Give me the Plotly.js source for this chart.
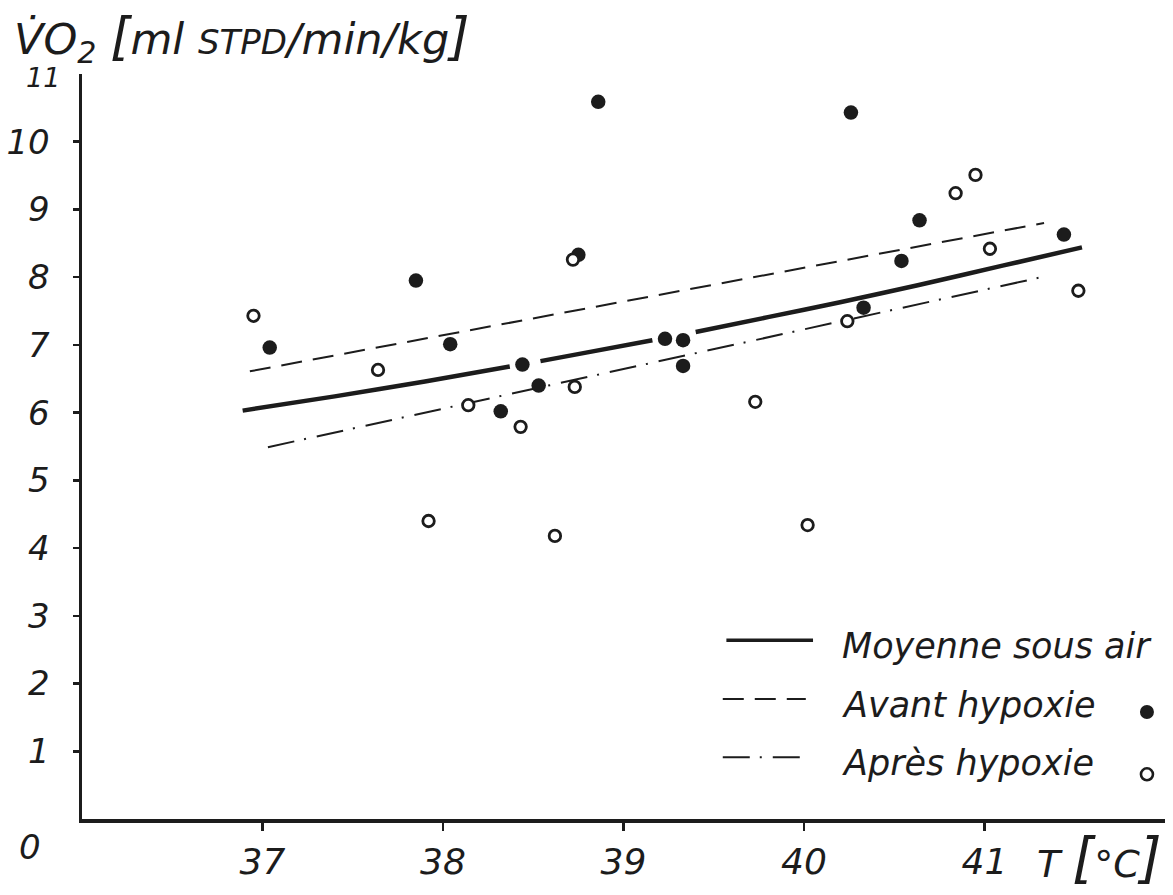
<!DOCTYPE html>
<html>
<head>
<meta charset="utf-8">
<script src="https://cdn.plot.ly/plotly-3.0.1.min.js"></script>
<style>html,body{margin:0;padding:0;background:#fff;}#chart{width:1173px;height:895px;}</style>
</head>
<body>
<div id="chart"></div>
<script>
// ---- Data ----
// Avant hypoxie (filled circles): temperature (°C), VO2 (ml STPD/min/kg)
const avantT   = [37.04, 37.85, 38.04, 38.32, 38.44, 38.53, 38.75, 38.86, 39.23, 39.33, 39.33, 40.26, 40.33, 40.54, 40.64, 41.44];
const avantVO2 = [6.96, 7.95, 7.01, 6.02, 6.71, 6.40, 8.33, 10.59, 7.09, 7.07, 6.69, 10.43, 7.55, 8.24, 8.84, 8.63];
// Après hypoxie (open circles)
const apresT   = [36.95, 37.64, 37.92, 38.14, 38.43, 38.62, 38.72, 38.73, 39.73, 40.02, 40.24, 40.84, 40.95, 41.03, 41.52];
const apresVO2 = [7.43, 6.63, 4.40, 6.11, 5.79, 4.18, 8.26, 6.38, 6.16, 4.34, 7.35, 9.24, 9.51, 8.42, 7.80];
// Moyenne sous air (solid curve, interrupted where it passes under points)
const moyT   = [36.89, 37.4, 37.9, 38.37, null, 38.54, 38.8, 39.16, null, 39.40, 39.8, 40.2, 40.63, 41.1, 41.54];
const moyVO2 = [6.03, 6.24, 6.46, 6.68, null, 6.76, 6.89, 7.07, null, 7.19, 7.41, 7.63, 7.88, 8.17, 8.44];
// Regression lines
const avantLineT   = [36.93, 41.33];
const avantLineVO2 = [6.61, 8.80];
const apresLineT   = [37.03, 41.35];
const apresLineVO2 = [5.49, 8.02];
// Axis ticks
const xTicks = [37, 38, 39, 40, 41];
const yTicks = [1, 2, 3, 4, 5, 6, 7, 8, 9, 10];
const legendNames = ['Moyenne sous air', 'Avant hypoxie', 'Après hypoxie'];

const INK = '#1c1c1c';
const FONT = 'DejaVu Sans';

const traces = [
  {x: moyT, y: moyVO2, mode: 'lines', line: {color: INK, width: 4.5, shape: 'spline', smoothing: 0.6}, connectgaps: false, name: legendNames[0], showlegend: false, hoverinfo: 'skip'},
  {x: avantLineT, y: avantLineVO2, mode: 'lines', line: {color: INK, width: 2, dash: '21px,11px'}, name: legendNames[1] + ' (droite)', showlegend: false},
  {x: apresLineT, y: apresLineVO2, mode: 'lines', line: {color: INK, width: 2, dash: '27px,10px,2px,11px'}, name: legendNames[2] + ' (droite)', showlegend: false},
  {x: avantT, y: avantVO2, mode: 'markers', marker: {color: INK, size: 14.5, line: {width: 0}}, name: legendNames[1], showlegend: false, cliponaxis: false},
  {x: apresT, y: apresVO2, mode: 'markers', marker: {color: '#ffffff', size: 11.5, line: {color: INK, width: 2.8}}, name: legendNames[2], showlegend: false, cliponaxis: false}
];

const layout = {
  width: 1173, height: 895,
  margin: {l: 82, r: 8, t: 74, b: 76},
  paper_bgcolor: '#fff', plot_bgcolor: '#fff',
  showlegend: false,
  font: {family: FONT, color: INK},
  title: {
    text: 'V\u0307O<sub>2</sub> <span style="font-size:52px">[</span>ml <span style="font-size:34px">STPD</span>/min/kg<span style="font-size:52px">]</span>',
    font: {family: FONT, size: 43, style: 'italic', color: INK},
    x: 0.012, xanchor: 'left', xref: 'container',
    y: 0.957, yanchor: 'middle', yref: 'container'
  },
  xaxis: {
    range: [36, 42], tickvals: xTicks, ticktext: xTicks.map(String),
    showgrid: false, zeroline: false, showline: true, linecolor: INK, linewidth: 3.5,
    ticks: 'outside', ticklen: 8, tickwidth: 2.5, tickcolor: INK,
    tickfont: {family: FONT, size: 36, style: 'italic', color: INK},
    ticklabelstandoff: 0
  },
  yaxis: {
    range: [0, 11], tickvals: yTicks, ticktext: yTicks.map(String),
    showgrid: false, zeroline: false, showline: true, linecolor: INK, linewidth: 3.5,
    ticks: 'outside', ticklen: 6, tickwidth: 2.5, tickcolor: INK,
    tickfont: {family: FONT, size: 34, style: 'italic', color: INK},
    ticklabelstandoff: 16
  },
  shapes: [
    // legend line samples
    {type: 'line', xref: 'x', yref: 'y', x0: 39.57, x1: 40.05, y0: 2.64, y1: 2.64, line: {color: INK, width: 3.5}},
    {type: 'line', xref: 'x', yref: 'y', x0: 39.55, x1: 40.01, y0: 1.77, y1: 1.77, line: {color: INK, width: 2, dash: '21px,11px'}},
    {type: 'line', xref: 'x', yref: 'y', x0: 39.55, x1: 40.03, y0: 0.91, y1: 0.91, line: {color: INK, width: 2, dash: '27px,10px,2px,11px'}},
    // legend marker samples
    {type: 'circle', xref: 'x', yref: 'y', xsizemode: 'pixel', ysizemode: 'pixel', xanchor: 41.90, yanchor: 1.58, x0: -7, x1: 7, y0: -7, y1: 7, fillcolor: INK, line: {width: 0}},
    {type: 'circle', xref: 'x', yref: 'y', xsizemode: 'pixel', ysizemode: 'pixel', xanchor: 41.90, yanchor: 0.66, x0: -6, x1: 6, y0: -6, y1: 6, fillcolor: '#fff', line: {color: INK, width: 2.6}}
  ],
  annotations: [
    {text: legendNames[0], xref: 'x', yref: 'y', x: 40.2, y: 2.55, xanchor: 'left', yanchor: 'middle', showarrow: false, font: {family: FONT, size: 35, style: 'italic', color: INK}},
    {text: legendNames[1], xref: 'x', yref: 'y', x: 40.2, y: 1.68, xanchor: 'left', yanchor: 'middle', showarrow: false, font: {family: FONT, size: 35, style: 'italic', color: INK}},
    {text: legendNames[2], xref: 'x', yref: 'y', x: 40.2, y: 0.82, xanchor: 'left', yanchor: 'middle', showarrow: false, font: {family: FONT, size: 35, style: 'italic', color: INK}},
    {text: '0', xref: 'paper', yref: 'paper', x: -0.048, y: -0.038, xanchor: 'center', yanchor: 'middle', showarrow: false, font: {family: FONT, size: 34, style: 'italic', color: INK}},
    {text: '11', xref: 'paper', yref: 'paper', x: -0.036, y: 0.995, xanchor: 'center', yanchor: 'middle', showarrow: false, font: {family: FONT, size: 27, style: 'italic', color: INK}},
    {text: 'T <span style="font-size:56px">[</span>°C<span style="font-size:56px">]</span>', xref: 'paper', yref: 'paper', x: 0.88, y: -0.052, xanchor: 'left', yanchor: 'middle', showarrow: false, font: {family: FONT, size: 38, style: 'italic', color: INK}}
  ]
};

Plotly.newPlot('chart', traces, layout, {displayModeBar: false, staticPlot: true});
</script>
</body>
</html>
